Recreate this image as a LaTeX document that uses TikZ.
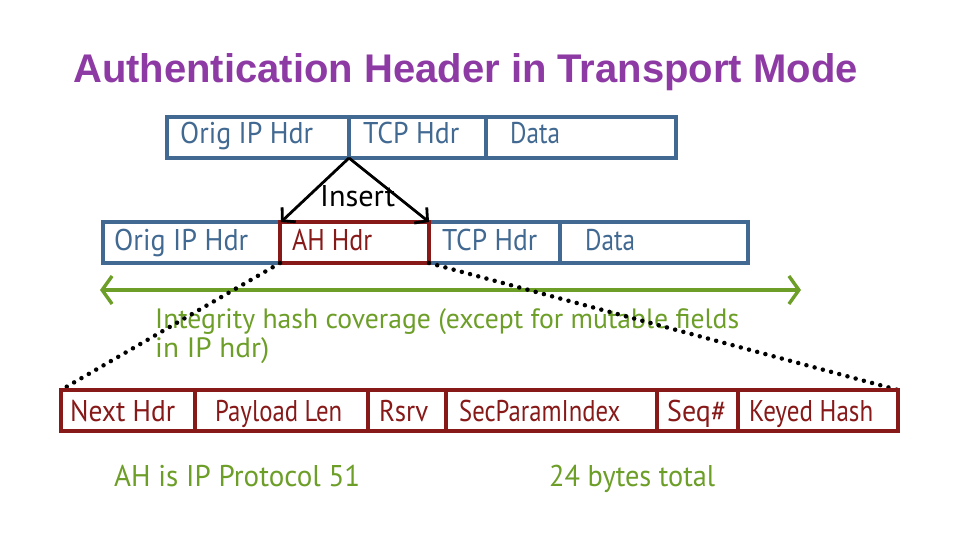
\documentclass[tikz,border=0pt]{standalone}
\usepackage{fontspec}
\usepackage{graphicx}
\setmainfont{PT Sans}
\newfontfamily\titlefont{Liberation Sans}
\usetikzlibrary{arrows.meta}
\definecolor{ttl}{RGB}{142,58,165}
\definecolor{bl}{RGB}{65,105,145}
\definecolor{rd}{RGB}{135,25,25}
\definecolor{gr}{RGB}{108,158,40}
\newcommand{\hw}[2]{\resizebox{#1pt}{\height}{#2}}
\tikzset{
  lbl/.style={anchor=base west,inner sep=0pt,font=\fontsize{30}{34}\selectfont},
  glbl/.style={anchor=base west,inner sep=0pt,text=gr,font=\fontsize{28}{30}\selectfont},
  bbox/.style={draw=bl,line width=3.2pt},
  rbox/.style={draw=rd,line width=3.2pt},
  dots/.style={line width=4.5pt,line cap=round,dash pattern=on 0pt off 8.5pt},
  ins/.style={line width=2.8pt,-{Straight Barb[length=9pt,width=20pt]}},
  cov/.style={draw=gr,line width=3.4pt,{Straight Barb[length=10pt,width=28pt]}-{Straight Barb[length=10pt,width=28pt]}}
}
\begin{document}
\begin{tikzpicture}[x=1pt,y=-1pt]
\useasboundingbox (0,0) rectangle (960,540);
% title
\node[anchor=base west,inner sep=0pt,text=ttl,font=\titlefont\bfseries\fontsize{40}{44}\selectfont] (title) at (73,83) {Authentication Header in Transport Mode};
% top row
\draw[bbox] (167,117) rectangle (676,158);
\draw[bbox] (349,117) -- (349,158);
\draw[bbox] (486,117) -- (486,158);
\coordinate (apex) at (349,158);
\node[lbl,text=bl] (t1) at (180,144) {\hw{133}{Orig IP Hdr}};
\node[lbl,text=bl] (t2) at (363,144) {\hw{96}{TCP Hdr}};
\node[lbl,text=bl] (t3) at (510,144) {\hw{50}{Data}};
% second row
\draw[bbox] (103,222) rectangle (748,263);
\draw[bbox] (560,222) -- (560,263);
\draw[rbox] (280,222) rectangle (429,263);
\coordinate (ahl) at (280,263);
\coordinate (ahr) at (429,263);
\coordinate (ahtl) at (281,222);
\coordinate (ahtr) at (429,222);
\node[lbl,text=bl] (s1) at (114,250) {\hw{134}{Orig IP Hdr}};
\node[lbl,text=rd] (s2) at (292,250) {\hw{80}{AH Hdr}};
\node[lbl,text=bl] (s3) at (442,250) {\hw{95}{TCP Hdr}};
\node[lbl,text=bl] (s4) at (585,250) {\hw{50}{Data}};
% insert
\draw[ins] (apex) -- (ahtl);
\draw[ins] (apex) -- (ahtr);
\node[lbl] (insert) at (320,206) {\hw{75}{Insert}};
% coverage arrow
\coordinate (cl) at (100,290);
\coordinate (cr) at (801,290);
\draw[cov] (cl) -- (cr);
\node[glbl] (g1) at (155,328) {\hw{584}{Integrity hash coverage (except for mutable fields}};
\node[glbl] (g2) at (155,357) {\hw{114}{in IP hdr)}};
% bottom row
\coordinate (bl) at (61,390);
\coordinate (br) at (898,390);
\draw[dots] (ahl) -- (bl);
\draw[dots] (ahr) -- (br);
\draw[rbox] (61,390) rectangle (898,431);
\foreach \x in {195,368,446,657,738} \draw[rbox] (\x,390) -- (\x,431);
\node[lbl,text=rd] (b1) at (70,421) {\hw{105}{Next Hdr}};
\node[lbl,text=rd] (b2) at (215,421) {\hw{127}{Payload Len}};
\node[lbl,text=rd] (b3) at (379,421) {\hw{49}{Rsrv}};
\node[lbl,text=rd] (b4) at (459,421) {\hw{161}{SecParamIndex}};
\node[lbl,text=rd] (b5) at (667,421) {\hw{59}{Seq\#}};
\node[lbl,text=rd] (b6) at (749,421) {\hw{124}{Keyed Hash}};
% bottom notes
\node[lbl,text=gr] (n1) at (114,486) {\hw{246}{AH is IP Protocol 51}};
\node[lbl,text=gr] (n2) at (549,486) {\hw{166}{24 bytes total}};
\end{tikzpicture}
\end{document}
